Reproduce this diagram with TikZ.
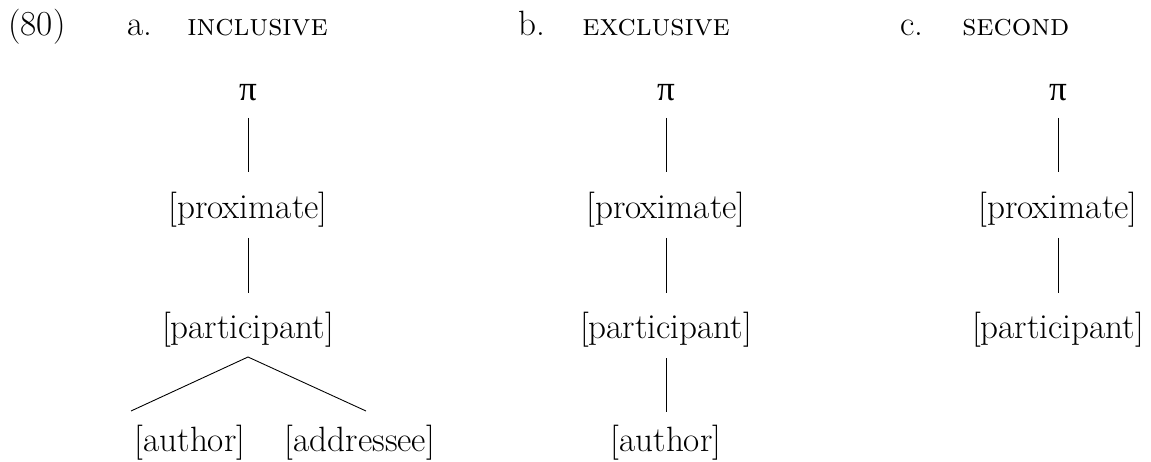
\documentclass[tikz,border=0pt]{standalone}
\usepackage{fontspec}
\newfontfamily\grkfont{Liberation Serif}
\usepackage{tikz}
\usetikzlibrary{positioning}

\begin{document}
\begin{tikzpicture}[
  every node/.style={inner sep=0pt, font=\fontsize{20}{24}\selectfont},
  hdr/.style={anchor=base west},
  sc/.style={anchor=base west, font=\fontsize{17.5}{21}\selectfont\scshape},
  feat/.style={anchor=center},
  branch/.style={line width=0.5pt},
]
  \useasboundingbox (0,0) rectangle (23.02,-9.24);

  % Example number and column headers
  \node[hdr] (num) at (0.16,-0.72) {(80)};
  \node[hdr] (la) at (2.54,-0.72) {a.};
  \node[sc] (ha) at (3.74,-0.72) {inclusive};
  \node[hdr] (lb) at (10.36,-0.72) {b.};
  \node[sc] (hb) at (11.64,-0.72) {exclusive};
  \node[hdr] (lc) at (18.0,-0.72) {c.};
  \node[sc] (hc) at (19.24,-0.72) {second};

  % a. inclusive
  \node[feat] (piA) at (4.96,-1.86) {\grkfont π};
  \node[feat] (proxA) at (4.96,-4.2) {[proximate]};
  \node[feat] (partA) at (4.96,-6.6) {[participant]};
  \node[feat] (authA) at (3.8,-8.86) {[author]};
  \node[feat] (addrA) at (7.2,-8.86) {[addressee]};
  \coordinate (topA) at (4.96,-7.14);
  \coordinate (leftA) at (2.62,-8.22);
  \coordinate (rightA) at (7.32,-8.22);

  % b. exclusive
  \node[feat] (piB) at (13.32,-1.86) {\grkfont π};
  \node[feat] (proxB) at (13.32,-4.2) {[proximate]};
  \node[feat] (partB) at (13.32,-6.6) {[participant]};
  \node[feat] (authB) at (13.32,-8.86) {[author]};

  % c. second
  \node[feat] (piC) at (21.16,-1.86) {\grkfont π};
  \node[feat] (proxC) at (21.16,-4.2) {[proximate]};
  \node[feat] (partC) at (21.16,-6.6) {[participant]};

  % Branches
  \foreach \t in {A,B,C}{
    \draw[branch] ([yshift=-0.5cm]pi\t.center) -- ([yshift=0.76cm]prox\t.center);
    \draw[branch] ([yshift=-0.56cm]prox\t.center) -- ([yshift=0.74cm]part\t.center);
  }
  \draw[branch] (leftA) -- (topA) -- (rightA);
  \draw[branch] ([yshift=-0.56cm]partB.center) -- ([yshift=0.62cm]authB.center);

\end{tikzpicture}
\end{document}
